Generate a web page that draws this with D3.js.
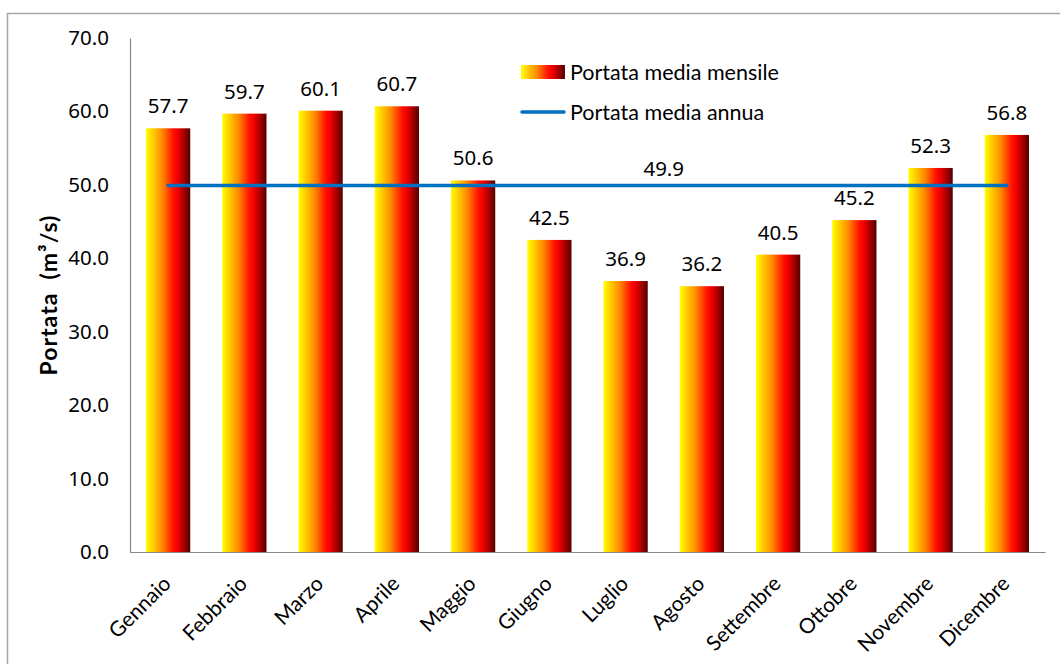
<!DOCTYPE html>
<html>
<head>
<meta charset="utf-8">
<script src="https://cdn.jsdelivr.net/npm/d3@7"></script>
<style>
  html, body { margin: 0; padding: 0; background: #fff; }
  svg { display: block; }
</style>
</head>
<body>
<svg id="chart" width="1060" height="664"></svg>
<script>
// Monthly mean discharge (m³/s)
const months = ["Gennaio", "Febbraio", "Marzo", "Aprile", "Maggio", "Giugno",
                "Luglio", "Agosto", "Settembre", "Ottobre", "Novembre", "Dicembre"];
const monthlyMean = [57.7, 59.7, 60.1, 60.7, 50.6, 42.5, 36.9, 36.2, 40.5, 45.2, 52.3, 56.8];
const annualMean = 49.9;
const yTicks = [0, 10, 20, 30, 40, 50, 60, 70];
const legendLabels = ["Portata media mensile", "Portata media annua"];

const svg = d3.select("#chart");
const numFont = "'Noto Sans', 'DejaVu Sans', sans-serif";
const txtFont = "Lato, 'Open Sans', sans-serif";

const plot = { left: 130, right: 1045, top: 38, bottom: 552 };

const x = d3.scaleBand()
  .domain(months)
  .range([plot.left, plot.right])
  .paddingInner(0.42)
  .paddingOuter(0.21);

const y = d3.scaleLinear()
  .domain([0, 70])
  .range([plot.bottom, plot.top]);

// Horizontal yellow → orange → red → dark red fill for bars
const defs = svg.append("defs");
const grad = defs.append("linearGradient")
  .attr("id", "barFill")
  .attr("x1", "0%").attr("y1", "0%")
  .attr("x2", "100%").attr("y2", "0%");
[[0, "#ffff00"], [0.36, "#ff8c00"], [0.62, "#ff1000"], [0.72, "#f00000"], [1, "#560000"]]
  .forEach(([o, c]) => grad.append("stop").attr("offset", o).attr("stop-color", c));

// Outer frame
svg.append("rect")
  .attr("x", 7.5).attr("y", 13.5)
  .attr("width", 1070).attr("height", 700)
  .attr("fill", "none")
  .attr("stroke", "#a6a6a6")
  .attr("stroke-width", 1.5);

// Bars
svg.append("g").selectAll("rect")
  .data(monthlyMean)
  .join("rect")
  .attr("x", (d, i) => x(months[i]))
  .attr("y", d => y(d))
  .attr("width", x.bandwidth())
  .attr("height", d => y(0) - y(d))
  .attr("fill", "url(#barFill)");

// Bar value labels
svg.append("g").selectAll("text")
  .data(monthlyMean)
  .join("text")
  .attr("x", (d, i) => x(months[i]) + x.bandwidth() / 2)
  .attr("y", d => y(d) - 15)
  .attr("text-anchor", "middle")
  .attr("font-family", numFont)
  .attr("font-size", 20.5)
  .attr("fill", "#000")
  .text(d => d.toFixed(1));

// Y axis
const yAxis = d3.axisLeft(y)
  .tickValues(yTicks)
  .tickSize(0)
  .tickPadding(21)
  .tickFormat(d3.format(".1f"));
const gy = svg.append("g")
  .attr("transform", `translate(${plot.left},0)`)
  .call(yAxis);
gy.select(".domain").attr("stroke", "#868686").attr("stroke-width", 1.2);
gy.selectAll("text")
  .attr("font-family", numFont)
  .attr("font-size", 20.5)
  .attr("fill", "#000");

// X axis
const xAxis = d3.axisBottom(x).tickSize(0).tickPadding(0);
const gx = svg.append("g")
  .attr("transform", `translate(0,${plot.bottom})`)
  .call(xAxis);
gx.select(".domain").attr("stroke", "#868686").attr("stroke-width", 1.2);
gx.selectAll("text")
  .attr("font-family", txtFont)
  .attr("font-size", 21)
  .attr("fill", "#000")
  .attr("text-anchor", "end")
  .attr("dy", null)
  .attr("transform", "translate(4,33) rotate(-45)");

// Annual mean line across first to last month
const xc = m => x(m) + x.bandwidth() / 2;
svg.append("line")
  .attr("x1", xc(months[0]))
  .attr("x2", xc(months[months.length - 1]))
  .attr("y1", y(annualMean))
  .attr("y2", y(annualMean))
  .attr("stroke", "#0070c0")
  .attr("stroke-width", 3.5)
  .attr("stroke-linecap", "round");

svg.append("text")
  .attr("x", (xc("Luglio") + xc("Agosto")) / 2)
  .attr("y", y(annualMean) - 10)
  .attr("text-anchor", "middle")
  .attr("font-family", numFont)
  .attr("font-size", 20.5)
  .attr("fill", "#000")
  .text(annualMean.toFixed(1));

// Y axis title
svg.append("text")
  .attr("transform", "translate(57,295) rotate(-90)")
  .attr("text-anchor", "middle")
  .attr("font-family", txtFont)
  .attr("font-weight", "bold")
  .attr("font-size", 23)
  .attr("letter-spacing", 1)
  .style("white-space", "pre")
  .attr("fill", "#000")
  .text("Portata  (m³/s)");

// Legend
const lg = svg.append("g").attr("transform", "translate(521,0)");
lg.append("rect")
  .attr("x", 0).attr("y", 65)
  .attr("width", 44).attr("height", 14)
  .attr("fill", "url(#barFill)");
lg.append("text")
  .attr("x", 49).attr("y", 80)
  .attr("font-family", txtFont)
  .attr("font-size", 21.5)
  .attr("fill", "#000")
  .text(legendLabels[0]);
lg.append("line")
  .attr("x1", 1).attr("x2", 43)
  .attr("y1", 112).attr("y2", 112)
  .attr("stroke", "#0070c0")
  .attr("stroke-width", 3.5)
  .attr("stroke-linecap", "round");
lg.append("text")
  .attr("x", 49).attr("y", 120)
  .attr("font-family", txtFont)
  .attr("font-size", 21.5)
  .attr("fill", "#000")
  .text(legendLabels[1]);
</script>
</body>
</html>
